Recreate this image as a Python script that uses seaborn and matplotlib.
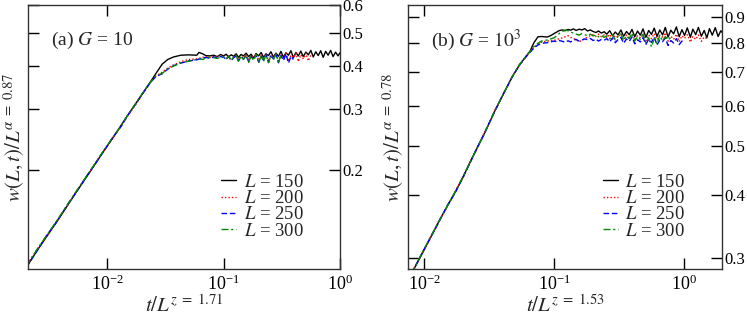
import numpy as np
import pandas as pd
import matplotlib
matplotlib.use("Agg")
import matplotlib.pyplot as plt
import matplotlib.ticker as mticker
import seaborn as sns

# ---- data ----
# panel (a): G = 10, shared x grid (t / L^z)
xa = [0.002, 0.0025, 0.003, 0.0037, 0.0045, 0.0055, 0.0067, 0.008, 0.0095, 0.011,
      0.013, 0.015, 0.0175, 0.02, 0.023, 0.026, 0.0295, 0.033, 0.037, 0.0428,
      0.05, 0.0587, 0.0612, 0.066, 0.070, 0.076, 0.082, 0.088, 0.094,
      0.100, 0.105, 0.110, 0.116, 0.122, 0.128, 0.134, 0.141, 0.148, 0.156,
      0.164, 0.172, 0.181, 0.190, 0.200, 0.210, 0.220, 0.231, 0.243, 0.255,
      0.268, 0.282, 0.296, 0.311, 0.327, 0.343, 0.361, 0.379, 0.398, 0.418,
      0.439, 0.461, 0.484, 0.509, 0.535, 0.562, 0.590, 0.620, 0.651, 0.684,
      0.718, 0.754, 0.792, 0.832, 0.874, 0.918, 0.964, 1.000]

ya_150 = [0.105, 0.118, 0.129, 0.143, 0.158, 0.175, 0.193, 0.211, 0.230, 0.247,
          0.269, 0.289, 0.312, 0.333, 0.357, 0.380, 0.405, 0.418, 0.425, 0.430,
          0.431, 0.430, 0.438, 0.434, 0.429, 0.428, 0.430, 0.426, 0.432,
          0.428, 0.433, 0.425, 0.431, 0.427, 0.434, 0.424, 0.432, 0.428, 0.436,
          0.426, 0.433, 0.422, 0.435, 0.428, 0.438, 0.424, 0.434, 0.429, 0.440,
          0.425, 0.436, 0.427, 0.441, 0.424, 0.437, 0.430, 0.443, 0.423, 0.438,
          0.428, 0.442, 0.426, 0.439, 0.431, 0.444, 0.425, 0.440, 0.429, 0.443,
          0.424, 0.441, 0.430, 0.444, 0.426, 0.439, 0.428, 0.437]
ya_200 = [0.106, 0.119, 0.129, 0.144, 0.158, 0.176, 0.193, 0.212, 0.231, 0.246,
          0.268, 0.288, 0.310, 0.332, 0.355, 0.374, 0.384, 0.395, 0.403, 0.412,
          0.418, 0.420, 0.421, 0.424, 0.426, 0.423, 0.427, 0.425, 0.428,
          0.426, 0.421, 0.428, 0.419, 0.425, 0.430, 0.418, 0.427, 0.422, 0.431,
          0.417, 0.428, 0.423, 0.433, 0.416, 0.429, 0.421, 0.434, 0.415, 0.430,
          0.424, 0.435, 0.414, 0.431, 0.420, 0.436, 0.413, 0.430, 0.423, 0.437,
          0.412, 0.432, 0.419, 0.436, 0.414, 0.430]
ya_250 = [0.105, 0.118, 0.130, 0.143, 0.159, 0.175, 0.194, 0.211, 0.230, 0.248,
          0.267, 0.289, 0.311, 0.333, 0.356, 0.373, 0.380, 0.392, 0.401, 0.408,
          0.414, 0.417, 0.419, 0.422, 0.424, 0.421, 0.425, 0.423, 0.426,
          0.424, 0.418, 0.426, 0.415, 0.423, 0.428, 0.414, 0.425, 0.419, 0.429,
          0.412, 0.426, 0.418, 0.431, 0.411, 0.427, 0.416, 0.432, 0.410, 0.428,
          0.420, 0.433, 0.409, 0.429, 0.415, 0.434, 0.408, 0.427, 0.418]
ya_300 = [0.106, 0.119, 0.130, 0.144, 0.159, 0.176, 0.194, 0.212, 0.231, 0.248,
          0.268, 0.290, 0.312, 0.334, 0.357, 0.375, 0.381, 0.393, 0.400, 0.409,
          0.413, 0.418, 0.420, 0.418, 0.422, 0.425, 0.423, 0.421, 0.424,
          0.425, 0.419, 0.427, 0.416, 0.424, 0.429, 0.413, 0.427, 0.418, 0.431,
          0.410, 0.428, 0.415, 0.433, 0.408, 0.429, 0.412, 0.432, 0.409, 0.430,
          0.417, 0.434, 0.411, 0.428]

# panel (b): G = 10^3
xb = [0.007, 0.008, 0.0093, 0.011, 0.013, 0.0152, 0.0173, 0.020, 0.0228, 0.0256,
      0.029, 0.0322, 0.0351, 0.040, 0.0475, 0.054, 0.060, 0.0654, 0.070, 0.0752,
      0.080, 0.0884, 0.094,
      0.100, 0.105, 0.110, 0.116, 0.122, 0.128, 0.134, 0.141, 0.148, 0.156,
      0.164, 0.172, 0.181, 0.190, 0.200, 0.210, 0.220, 0.231, 0.243, 0.255,
      0.268, 0.282, 0.296, 0.311, 0.327, 0.343, 0.361, 0.379, 0.398, 0.418,
      0.439, 0.461, 0.484, 0.509, 0.535, 0.562, 0.590, 0.620, 0.651, 0.684,
      0.718, 0.754, 0.792, 0.832, 0.874, 0.918, 0.964, 1.01, 1.06, 1.12,
      1.17, 1.23, 1.29, 1.36, 1.43, 1.50, 1.57, 1.65, 1.74, 1.83, 1.92, 2.00]

yb_150 = [0.262, 0.279, 0.300, 0.326, 0.354, 0.381, 0.404, 0.434, 0.466, 0.495,
          0.528, 0.559, 0.587, 0.627, 0.684, 0.722, 0.748, 0.770, 0.800, 0.822,
          0.823, 0.821, 0.826,
          0.834, 0.840, 0.846, 0.848, 0.845, 0.850, 0.847, 0.852, 0.846, 0.851,
          0.848, 0.853, 0.844, 0.848, 0.842, 0.838, 0.844, 0.836, 0.841,
          0.832, 0.845, 0.826, 0.840, 0.829, 0.848, 0.824, 0.842, 0.830, 0.850,
          0.822, 0.844, 0.828, 0.852, 0.820, 0.846, 0.831, 0.855, 0.823, 0.848,
          0.829, 0.858, 0.821, 0.847, 0.833, 0.860, 0.822, 0.849, 0.827, 0.856,
          0.820, 0.851, 0.830, 0.858, 0.824, 0.846, 0.818, 0.853, 0.828, 0.857,
          0.823, 0.845, 0.834]
yb_200 = [0.263, 0.280, 0.300, 0.325, 0.355, 0.380, 0.405, 0.433, 0.467, 0.494,
          0.529, 0.558, 0.588, 0.626, 0.685, 0.721, 0.749, 0.768, 0.783, 0.795,
          0.802, 0.806, 0.808,
          0.808, 0.812, 0.815, 0.818, 0.822, 0.826, 0.820, 0.816, 0.810, 0.804,
          0.808, 0.815, 0.821, 0.826, 0.830, 0.824, 0.832, 0.822, 0.829,
          0.818, 0.831, 0.814, 0.827, 0.820, 0.835, 0.812, 0.828, 0.817, 0.833,
          0.810, 0.826, 0.819, 0.836, 0.808, 0.829, 0.815, 0.834, 0.811, 0.827,
          0.821, 0.837, 0.806, 0.824, 0.813, 0.832, 0.804, 0.826, 0.816, 0.830,
          0.802, 0.823, 0.812, 0.829, 0.805, 0.821, 0.815]
yb_250 = [0.262, 0.278, 0.301, 0.326, 0.353, 0.382, 0.403, 0.434, 0.465, 0.496,
          0.527, 0.560, 0.586, 0.628, 0.683, 0.722, 0.747, 0.766, 0.781, 0.792,
          0.798, 0.800, 0.803,
          0.806, 0.804, 0.808, 0.805, 0.802, 0.807, 0.803, 0.809, 0.812, 0.806,
          0.810, 0.814, 0.811, 0.816, 0.808, 0.813, 0.806, 0.812, 0.809,
          0.815, 0.803, 0.818, 0.800, 0.812, 0.820, 0.798, 0.814, 0.805, 0.822,
          0.796, 0.811, 0.803, 0.819, 0.794, 0.813, 0.801, 0.821, 0.792, 0.810,
          0.804, 0.817, 0.790, 0.808, 0.799, 0.815, 0.793, 0.806, 0.800]
yb_300 = [0.263, 0.279, 0.301, 0.327, 0.354, 0.381, 0.405, 0.435, 0.466, 0.495,
          0.528, 0.559, 0.588, 0.627, 0.684, 0.723, 0.749, 0.769, 0.786, 0.798,
          0.806, 0.810, 0.814,
          0.818, 0.826, 0.835, 0.842, 0.848, 0.845, 0.840, 0.836, 0.832, 0.828,
          0.834, 0.830, 0.826, 0.832, 0.825, 0.829, 0.822, 0.827, 0.820,
          0.826, 0.814, 0.830, 0.810, 0.824, 0.833, 0.808, 0.825, 0.815, 0.836,
          0.806, 0.822, 0.812, 0.831, 0.800, 0.818, 0.785, 0.815, 0.795, 0.828,
          0.806, 0.823, 0.810, 0.820]

sizes = [150, 200, 250, 300]
colors = ["black", "#ff0000", "#0000ff", "#008a00"]
styles = ["-", (0, (1, 1.5)), (0, (4, 2)), (0, (5, 2, 1.5, 2))]

ticks_a = [0.2, 0.3, 0.4, 0.5, 0.6]
ticks_b = [0.3, 0.4, 0.5, 0.6, 0.7, 0.8, 0.9]

sns.set_style("ticks")
plt.rcParams["font.family"] = ["Liberation Serif", "DejaVu Serif"]
plt.rcParams["mathtext.fontset"] = "stix"
plt.rcParams["font.size"] = 13

fig = plt.figure(figsize=(7.47, 3.16), dpi=100)
ax_a = fig.add_axes([0.0375, 0.149, 0.4175, 0.835])
ax_b = fig.add_axes([0.546, 0.149, 0.4205, 0.835])


def draw_panel(ax, x, ys, xlim, ylim, yticks, title, alpha, z):
    for L, y, c, ls in zip(sizes, ys, colors, styles):
        sns.lineplot(x=x[:len(y)], y=y, ax=ax, color=c, linestyle=ls, linewidth=1.0,
                     estimator=None, sort=False, label=f"$L$ = {L}")
    ax.set_xscale("log")
    ax.set_yscale("log")
    ax.set_xlim(*xlim)
    ax.set_ylim(*ylim)
    ax.xaxis.set_major_locator(mticker.LogLocator(base=10, numticks=10))
    ax.xaxis.set_minor_locator(mticker.NullLocator())
    ax.yaxis.set_major_locator(mticker.FixedLocator(yticks))
    ax.yaxis.set_major_formatter(mticker.FixedFormatter([f"{t:.1f}" for t in yticks]))
    ax.yaxis.set_minor_locator(mticker.NullLocator())
    ax.tick_params(which="both", direction="in", length=8, width=1, top=True, bottom=True,
                   left=True, right=True, labelleft=False, labelright=True,
                   labelsize=12, pad=2, colors="black")
    ax.tick_params(axis="x", labelsize=13, pad=4)
    for sp in ax.spines.values():
        sp.set_linewidth(1.0)
        sp.set_color("#333333")
    ax.set_xlabel(rf"$t/L^{{z\ =\ {z}}}$", labelpad=1, fontsize=15)
    ax.set_ylabel(rf"$w(L,t)/L^{{\alpha\ =\ {alpha}}}$", labelpad=1, fontsize=15)
    ax.text(0.075, 0.865, title, transform=ax.transAxes, fontsize=14, va="center", ha="left")
    ax.legend(loc="upper left", bbox_to_anchor=(0.62, 0.36), frameon=False, fontsize=13.5,
              handlelength=0.8, handletextpad=0.4, labelspacing=-0.05, borderpad=0,
              borderaxespad=0)


draw_panel(ax_a, xa, [ya_150, ya_200, ya_250, ya_300], (0.00207, 1.0), (0.104, 0.6),
           ticks_a, r"(a) $G$ = 10", "0.87", "1.71")
draw_panel(ax_b, xb, [yb_150, yb_200, yb_250, yb_300], (0.0075, 1.96), (0.285, 0.95),
           ticks_b, r"(b) $G$ = $10^3$", "0.78", "1.53")

fig.savefig("out.png", dpi=100)
